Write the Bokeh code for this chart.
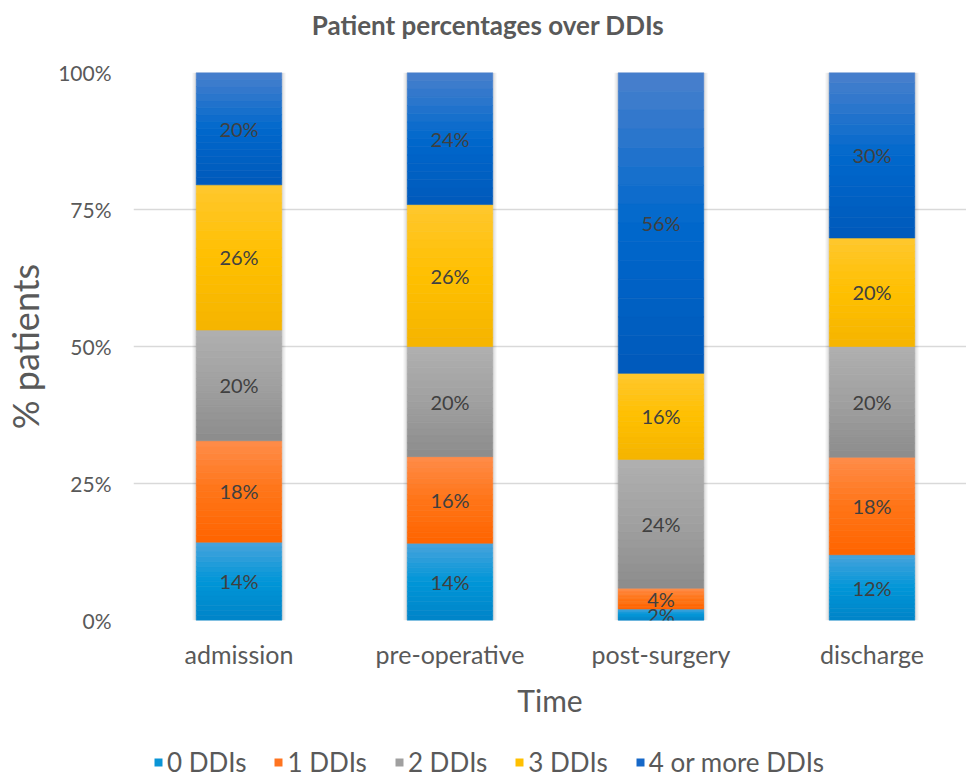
import numpy as np
from bokeh.plotting import figure
from bokeh.layouts import column
from bokeh.models import ColumnDataSource, Range1d, FixedTicker, Legend, LegendItem
from bokeh.embed import file_html
from bokeh.resources import INLINE
from bokeh.core.properties import value

# ---------------- data ----------------
categories = ["admission", "pre-operative", "post-surgery", "discharge"]
series_names = ["0 DDIs", "1 DDIs", "2 DDIs", "3 DDIs", "4 or more DDIs"]

ddi0 = [14.3, 14.1, 2.1, 12.0]
ddi1 = [18.5, 15.8, 3.8, 17.8]
ddi2 = [20.2, 20.1, 23.5, 20.2]
ddi3 = [26.5, 25.9, 15.7, 19.8]
ddi4 = [20.5, 24.1, 54.9, 30.2]

lab0 = ["14%", "14%", "2%", "12%"]
lab1 = ["18%", "16%", "4%", "18%"]
lab2 = ["20%", "20%", "24%", "20%"]
lab3 = ["26%", "26%", "16%", "20%"]
lab4 = ["20%", "24%", "56%", "30%"]

y_ticks = [0, 25, 50, 75, 100]
y_tick_labels = ["0%", "25%", "50%", "75%", "100%"]

title_text = "Patient percentages over DDIs"
x_title = "Time"
y_title = "% patients"

# ---------------- style ----------------
FONT = "Lato"
gradients = [  # top, middle, bottom
    ("#4aa3dc", "#0096d8", "#0084c8"),
    ("#ff8c4a", "#ff7517", "#ff6400"),
    ("#b0b0b0", "#a0a0a0", "#8c8c8c"),
    ("#ffc72e", "#ffc000", "#f5b400"),
    ("#4a80cc", "#0068cc", "#0059bb"),
]
legend_colors = ["#0a95d6", "#ff7420", "#a0a0a0", "#ffc000", "#1668c8"]
NB = 16
BAR_W = 0.405
PX = 1.0 / 211.0
W, H = 966, 778
TH = 50                      # title strip height
LH = 40                      # legend strip height
MH = H - TH - LH             # main figure height
FL, FT, FB = 133, 72, 620    # frame left / top / bottom in page pixels


def hex2rgb(h):
    h = h.lstrip("#")
    return np.array([int(h[i:i + 2], 16) for i in (0, 2, 4)], dtype=float)


def rgb2hex(c):
    return "#%02x%02x%02x" % tuple(int(round(v)) for v in c)


def band_color(grad, t):
    a, m, b = (hex2rgb(g) for g in grad)
    if t < 0.5:
        c = a + (m - a) * (t / 0.5)
    else:
        c = m + (b - m) * ((t - 0.5) / 0.5)
    return rgb2hex(c)


def strip(height):
    # frames in the column are aligned with the main chart's frame (FL..W)
    f = figure(width=W, height=height, x_range=Range1d(FL, W),
               y_range=Range1d(0, height), x_axis_type=None, y_axis_type=None,
               output_backend="svg", toolbar_location=None, min_border=0)
    f.outline_line_color = None
    f.grid.visible = False
    f.border_fill_color = "white"
    f.background_fill_color = "white"
    return f


series_vals = [ddi0, ddi1, ddi2, ddi3, ddi4]
series_labels = [lab0, lab1, lab2, lab3, lab4]
xs = list(range(len(categories)))

# ---------------- title strip ----------------
tf = strip(TH)
tf.text(x=[W / 2.0 + 4.5], y=[TH - 24], text=[title_text], text_align="center",
        text_baseline="middle", text_font=value(FONT), text_font_style="bold",
        text_font_size="26px", text_color="#595959")

# ---------------- main chart ----------------
p = figure(width=W, height=MH,
           x_range=Range1d(-0.5, -0.5 + (W - FL) / 211.0),
           y_range=Range1d(0, 100),
           output_backend="svg", toolbar_location=None,
           min_border_left=FL, min_border_right=0,
           min_border_top=FT - TH, min_border_bottom=MH - (FB - TH))
p.outline_line_color = None
p.background_fill_color = "white"
p.border_fill_color = "white"

p.xgrid.grid_line_color = None
p.ygrid.ticker = FixedTicker(ticks=y_ticks)
p.ygrid.grid_line_color = "#d9d9d9"
p.ygrid.grid_line_width = 1.5

# soft shadow behind bars
for k in range(1, 5):
    p.vbar(x=xs, width=BAR_W + 2 * k * PX, bottom=0, top=100,
           fill_color="#000000", fill_alpha=0.035, line_color=None)

# stacked bars with banded gradient
bottoms = np.zeros(len(categories))
label_x, label_y, label_t = [], [], []
for s, vals in enumerate(series_vals):
    bx, bb, bt, bc = [], [], [], []
    for i, v in enumerate(vals):
        b0 = bottoms[i]
        for k in range(NB):
            top = b0 + v * (NB - k) / NB
            bot = b0 + v * (NB - k - 1) / NB
            bx.append(xs[i]); bb.append(bot); bt.append(top)
            bc.append(band_color(gradients[s], (k + 0.5) / NB))
        label_x.append(xs[i]); label_y.append(b0 + v / 2.0)
        label_t.append(series_labels[s][i])
    src = ColumnDataSource(dict(x=bx, bottom=bb, top=bt, color=bc))
    p.vbar(x="x", width=BAR_W, bottom="bottom", top="top", source=src,
           fill_color="color", line_color="color", line_width=0.6)
    bottoms = bottoms + np.array(vals)

# data labels
p.text(x=label_x, y=label_y, text=label_t, text_align="center",
       text_baseline="middle", text_font=value(FONT),
       text_font_size="20px", text_color="#404040")

# axes
p.xaxis.ticker = FixedTicker(ticks=xs)
p.xaxis.major_label_overrides = {i: c for i, c in zip(xs, categories)}
p.xaxis.axis_line_color = None
p.xaxis.major_tick_line_color = None
p.xaxis.minor_tick_line_color = None
p.xaxis.major_label_text_font = FONT
p.xaxis.major_label_text_font_size = "25px"
p.xaxis.major_label_text_color = "#595959"
p.xaxis.major_label_standoff = 12
p.xaxis.axis_label = x_title
p.xaxis.axis_label_text_font = FONT
p.xaxis.axis_label_text_font_style = "normal"
p.xaxis.axis_label_text_font_size = "30px"
p.xaxis.axis_label_text_color = "#595959"
p.xaxis.axis_label_standoff = 10

p.yaxis.ticker = FixedTicker(ticks=y_ticks)
p.yaxis.major_label_overrides = {t: l for t, l in zip(y_ticks, y_tick_labels)}
p.yaxis.axis_line_color = None
p.yaxis.major_tick_line_color = None
p.yaxis.minor_tick_line_color = None
p.yaxis.major_label_text_font = FONT
p.yaxis.major_label_text_font_size = "21px"
p.yaxis.major_label_text_color = "#595959"
p.yaxis.major_label_standoff = 16
p.yaxis.axis_label = y_title
p.yaxis.axis_label_text_font = FONT
p.yaxis.axis_label_text_font_style = "normal"
p.yaxis.axis_label_text_font_size = "36px"
p.yaxis.axis_label_text_color = "#595959"
p.yaxis.axis_label_standoff = 8

# ---------------- legend strip ----------------
lg = strip(LH)
swatches = [lg.vbar(x=[FL + 1], width=0, bottom=0, top=0, fill_color=c,
                    line_color=None) for c in legend_colors]
legend = Legend(items=[LegendItem(label=n, renderers=[r])
                       for n, r in zip(series_names, swatches)],
                orientation="horizontal", location=(153 - FL, 0),
                border_line_color=None, background_fill_alpha=0,
                label_text_font=FONT, label_text_font_size="26px",
                label_text_color="#595959", glyph_width=10, glyph_height=10,
                label_standoff=4, spacing=27, padding=0, margin=0)
lg.add_layout(legend)

open("out.html", "w").write(file_html(column(tf, p, lg, spacing=0), INLINE))
